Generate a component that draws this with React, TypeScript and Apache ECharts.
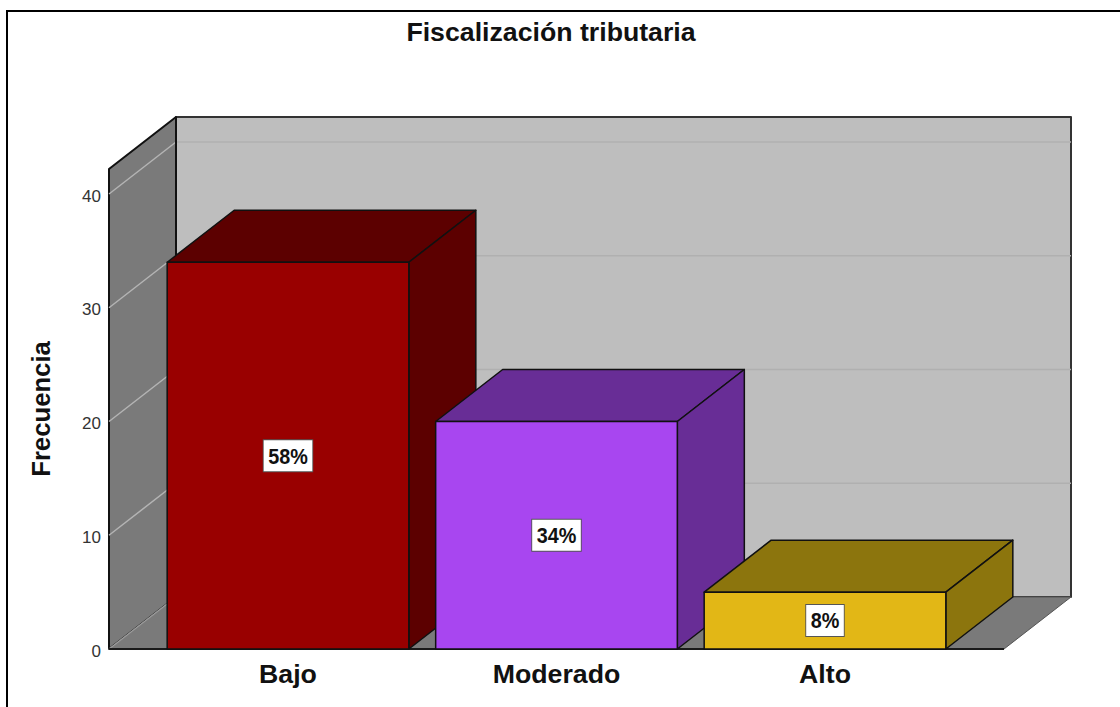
import React, { useEffect, useRef } from "react";
import * as echarts from "echarts";

const categories = ["Bajo", "Moderado", "Alto"];
const values = [34, 20, 5];
const percentLabels = ["58%", "34%", "8%"];
const frontColors = ["#990000", "#a846f0", "#e2b716"];
const darkColors = ["#5c0000", "#682d96", "#8c750d"];
const yTicks = [10, 20, 30, 40];
const yMax = 42.2;
const DX = 67;
const DY = -52;
const SANS = '"Liberation Sans", Arial, sans-serif';

function poly(points: number[][], fill: string, stroke = "#111111", lineWidth = 1.5) {
  return { type: "polygon", shape: { points }, style: { fill, stroke, lineWidth, lineJoin: "round" } };
}
function seg(a: number[], b: number[], stroke: string, lineWidth = 1.5, lineDash?: number[]) {
  return {
    type: "line",
    shape: { x1: a[0], y1: a[1], x2: b[0], y2: b[1] },
    style: { stroke, lineWidth, lineDash },
  };
}

function renderWalls(_params: any, api: any) {
  const band = api.size([1, 0])[0];
  const left = api.coord([0, 0])[0] - (band * 2) / 3;
  const right = api.coord([2, 0])[0] + (band * 2) / 3;
  const y0 = api.coord([0, 0])[1];
  const yT = api.coord([0, yMax])[1];
  const children: any[] = [
    poly([[left + DX, yT + DY], [right + DX, yT + DY], [right + DX, y0 + DY], [left + DX, y0 + DY]], "#bebebe", "#333333", 2),
    poly([[left, yT], [left + DX, yT + DY], [left + DX, y0 + DY], [left, y0]], "#7a7a7a", "#111111", 2),
    { type: "polygon", shape: { points: [[left, y0], [left + DX, y0 + DY], [right + DX, y0 + DY], [right, y0]] }, style: { fill: "#7a7a7a", stroke: "#555555", lineWidth: 1 } },
  ];
  yTicks.forEach((t) => {
    const y = api.coord([0, t])[1];
    children.push(seg([left + DX, y + DY], [right + DX, y + DY], "#b0b0b0", 1.5));
    children.push(seg([left, y], [left + DX, y + DY], "#b4b4b4", 1.5));
  });
  children.push(seg([left, y0], [left + DX, y0 + DY], "#9c9c9c", 1.5));
  children.push(seg([left + DX, yT + DY], [left + DX, y0 + DY], "#111111", 2));
  children.push(seg([left, y0], [right, y0], "#1a1a1a", 2));
  return { type: "group", children };
}

function renderBar(_params: any, api: any) {
  const i = api.value(0);
  const v = api.value(1);
  const [cx, y0] = api.coord([i, 0]);
  const yTop = api.coord([i, v])[1];
  const w = api.size([1, 0])[0] * 0.9;
  const l = cx - w / 2;
  const r = cx + w / 2;
  return {
    type: "group",
    children: [
      poly([[l, yTop], [l + DX, yTop + DY], [r + DX, yTop + DY], [r, yTop]], darkColors[i]),
      poly([[r, yTop], [r + DX, yTop + DY], [r + DX, y0 + DY], [r, y0]], darkColors[i]),
      poly([[l, yTop], [r, yTop], [r, y0], [l, y0]], frontColors[i]),
      {
        type: "text",
        x: cx,
        y: (yTop + y0) / 2,
        scaleX: 0.9,
        style: {
          text: percentLabels[i],
          font: 'bold 22px "Liberation Sans", sans-serif',
          fill: "#111111",
          align: "center",
          verticalAlign: "middle",
          backgroundColor: "#ffffff",
          borderColor: "#555555",
          borderWidth: 1,
          padding: [5, 5, 4, 5],
        },
      },
    ],
  };
}

export default function App() {
  const ref = useRef<HTMLDivElement>(null);
  useEffect(() => {
    const chart = echarts.init(ref.current!, undefined, { renderer: "svg" });
    chart.setOption({
      animation: false,
      backgroundColor: "#ffffff",
      title: {
        text: "Fiscalización tributaria",
        left: 546,
        top: 13,
        textAlign: "center",
        textStyle: { fontFamily: SANS, fontWeight: "bold", fontSize: 26.7, color: "#111111" },
      },
      grid: { left: 153.75, right: 160.75, top: 169, bottom: 58 },
      xAxis: {
        type: "category",
        data: categories,
        axisLine: { show: false },
        axisTick: { show: false },
        axisLabel: { fontFamily: SANS, fontWeight: "bold", fontSize: 26.7, color: "#111111", margin: 11 },
      },
      yAxis: {
        type: "value",
        min: 0,
        max: yMax,
        interval: 10,
        offset: 44.75,
        name: "Frecuencia",
        nameLocation: "middle",
        nameGap: 55,
        nameRotate: 90,
        nameTextStyle: { fontFamily: SANS, fontWeight: "bold", fontSize: 25.7, color: "#111111" },
        axisLine: { show: false },
        axisTick: { show: false },
        splitLine: { show: false },
        axisLabel: { showMaxLabel: false, fontFamily: SANS, fontSize: 17, color: "#333333", margin: 8, verticalAlign: "top", lineHeight: 4 },
      },
      graphic: [
        { type: "line", shape: { x1: 6, y1: 11, x2: 1120, y2: 11 }, style: { stroke: "#000000", lineWidth: 2 } },
        { type: "line", shape: { x1: 7, y1: 10, x2: 7, y2: 707 }, style: { stroke: "#000000", lineWidth: 2 } },
      ],
      series: [
        { type: "custom", coordinateSystem: "cartesian2d", z: 1, silent: true, renderItem: renderWalls, data: [[0, 0]] },
        {
          type: "custom",
          coordinateSystem: "cartesian2d",
          z: 2,
          silent: true,
          renderItem: renderBar,
          encode: { x: 0, y: 1 },
          data: values.map((v, i) => [i, v]),
        },
      ],
    });
    return () => chart.dispose();
  }, []);
  return <div ref={ref} style={{ position: "fixed", left: 0, top: 0, width: 1120, height: 707 }} />;
}
